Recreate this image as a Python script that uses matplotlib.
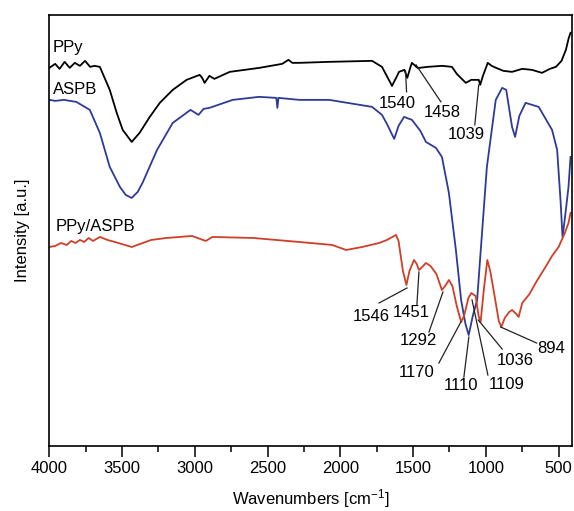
import numpy as np
import matplotlib
matplotlib.use('Agg')
import matplotlib.pyplot as plt

plt.rcParams['font.family'] = ['Liberation Sans', 'DejaVu Sans']
plt.rcParams['mathtext.default'] = 'regular'

# PPy spectrum (wavenumber, intensity a.u.)
ppy_w = [4000, 3960, 3930, 3895, 3860, 3825, 3790, 3755, 3720, 3690, 3653, 3585, 3537, 3496,
         3434, 3380, 3310, 3241, 3152, 3057, 2967, 2950, 2933, 2900, 2866, 2760, 2556, 2400,
         2357, 2330, 2283, 2077, 1782, 1714, 1645, 1610, 1597, 1560, 1540, 1520, 1508, 1470,
         1458, 1400, 1300, 1233, 1200, 1138, 1100, 1049, 1039, 1020, 987, 960, 930, 880, 820,
         750, 683, 614, 560, 518, 480, 450, 430, 418]
ppy_i = [378, 382, 377, 384, 378, 383, 380, 385, 379, 380, 379, 356, 333, 316,
         304, 313, 329, 343, 356, 366, 371, 368, 363, 370, 367, 374, 378, 382,
         386, 383, 383, 384, 385, 379, 360, 370, 374, 376, 368, 378, 383, 378,
         378, 379, 380, 379, 372, 363, 366, 366, 361, 370, 383, 380, 378, 375, 374,
         377, 376, 373, 377, 379, 385, 396, 408, 413]

# ASPB spectrum
aspb_w = [4000, 3960, 3900, 3815, 3722, 3653, 3585, 3515, 3475, 3434, 3393, 3360, 3260, 3152,
          3030, 2975, 2940, 2900, 2740, 2560, 2440, 2433, 2425, 2283, 2077, 1782, 1714, 1680,
          1630, 1600, 1562, 1508, 1450, 1412, 1343, 1302, 1254, 1206, 1170, 1140, 1118, 1090,
          1060, 1035, 993, 932, 888, 860, 820, 799, 770, 727, 637, 545, 510, 487, 473, 455,
          432, 418]
aspb_i = [346, 345, 346, 344, 336, 313, 279, 259, 251, 248, 254, 263, 296, 323,
          336, 331, 337, 338, 346, 349, 348, 338, 348, 346, 346, 339, 331, 322,
          307, 320, 329, 326, 315, 304, 298, 289, 253, 196, 146, 122, 111, 130,
          146, 196, 279, 346, 358, 356, 319, 309, 330, 343, 339, 316, 296, 246, 209, 230,
          259, 289]

# PPy/ASPB spectrum
comp_w = [4000, 3960, 3920, 3880, 3850, 3820, 3790, 3760, 3730, 3700, 3653, 3600, 3550, 3434,
          3300, 3195, 3020, 2925, 2880, 2600, 2283, 2056, 1960, 1850, 1733, 1680, 1618, 1600,
          1570, 1546, 1525, 1494, 1475, 1460, 1451, 1412, 1380, 1340, 1302, 1280, 1254, 1230,
          1200, 1170, 1150, 1120, 1100, 1090, 1070, 1050, 1036, 1015, 990, 970, 940, 911,
          894, 870, 840, 820, 790, 775, 750, 700, 650, 590, 545, 500, 460, 432, 418]
comp_i = [199, 200, 203, 201, 205, 203, 206, 204, 208, 205, 209, 206, 204, 199,
          206, 208, 210, 205, 209, 208, 204, 201, 196, 199, 203, 206, 211, 205,
          175, 161, 175, 186, 182, 176, 177, 183, 180, 172, 156, 160, 166, 160,
          140, 124, 130, 148, 153, 152, 150, 130, 124, 155, 186, 175, 150, 125,
          119, 128, 134, 136, 132, 129, 143, 152, 165, 179, 190, 199, 212, 223, 233]

# annotations: label, text position, line start, line end
ppy_marks = [('1540', (1611, 342), (1545, 354), (1552, 375)),
             ('1458', (1303, 333), (1309, 344), (1480, 381)),
             ('1039', (1131, 311), (1076, 321), (1049, 361))]
comp_marks = [('1546', (1789, 130), (1734, 143), (1542, 158)),
              ('1451', (1515, 134), (1474, 141), (1460, 174)),
              ('1292', (1460, 106), (1391, 114), (1295, 154)),
              ('1170', (1474, 74), (1323, 83), (1172, 124)),
              ('1110', (1172, 61), (1151, 69), (1117, 109)),
              ('1109', (857, 62), (986, 71), (1095, 146)),
              ('1036', (795, 86), (888, 97), (1052, 126)),
              ('894', (548, 98), (651, 103), (898, 119))]

fig = plt.figure(figsize=(5.74, 5.11), dpi=100)
ax = fig.add_axes([0.086, 0.127, 0.910, 0.844])

ax.plot(ppy_w, ppy_i, color='black', lw=1.3)
ax.plot(aspb_w, aspb_i, color='#2e3a98', lw=1.3)
ax.plot(comp_w, comp_i, color='#cf3f28', lw=1.3)

ax.text(3975, 398, 'PPy', fontsize=12, va='center')
ax.text(3975, 356, 'ASPB', fontsize=12, va='center')
ax.text(3960, 219, 'PPy/ASPB', fontsize=12, va='center')

for lab, tp, p0, p1 in ppy_marks + comp_marks:
    ax.text(tp[0], tp[1], lab, fontsize=12, ha='center', va='center')
    ax.plot([p0[0], p1[0]], [p0[1], p1[1]], color='#222222', lw=0.9)

ax.set_xlim(4000, 410)
ax.set_ylim(0, 431)
ax.set_xticks(np.arange(4000, 499, -500))
ax.set_xticks(np.arange(3750, 400, -500), minor=True)
ax.set_yticks([])
ax.tick_params(axis='x', which='major', direction='out', length=8, width=1.1, labelsize=12, pad=3)
ax.tick_params(axis='x', which='minor', direction='out', length=4, width=1.1)
for s in ax.spines.values():
    s.set_linewidth(1.2)

ax.set_xlabel('Wavenumbers [cm$^{-1}$]', fontsize=12, labelpad=8)
ax.set_ylabel('Intensity [a.u.]', fontsize=12, labelpad=14)

fig.savefig('out.png', dpi=100)
